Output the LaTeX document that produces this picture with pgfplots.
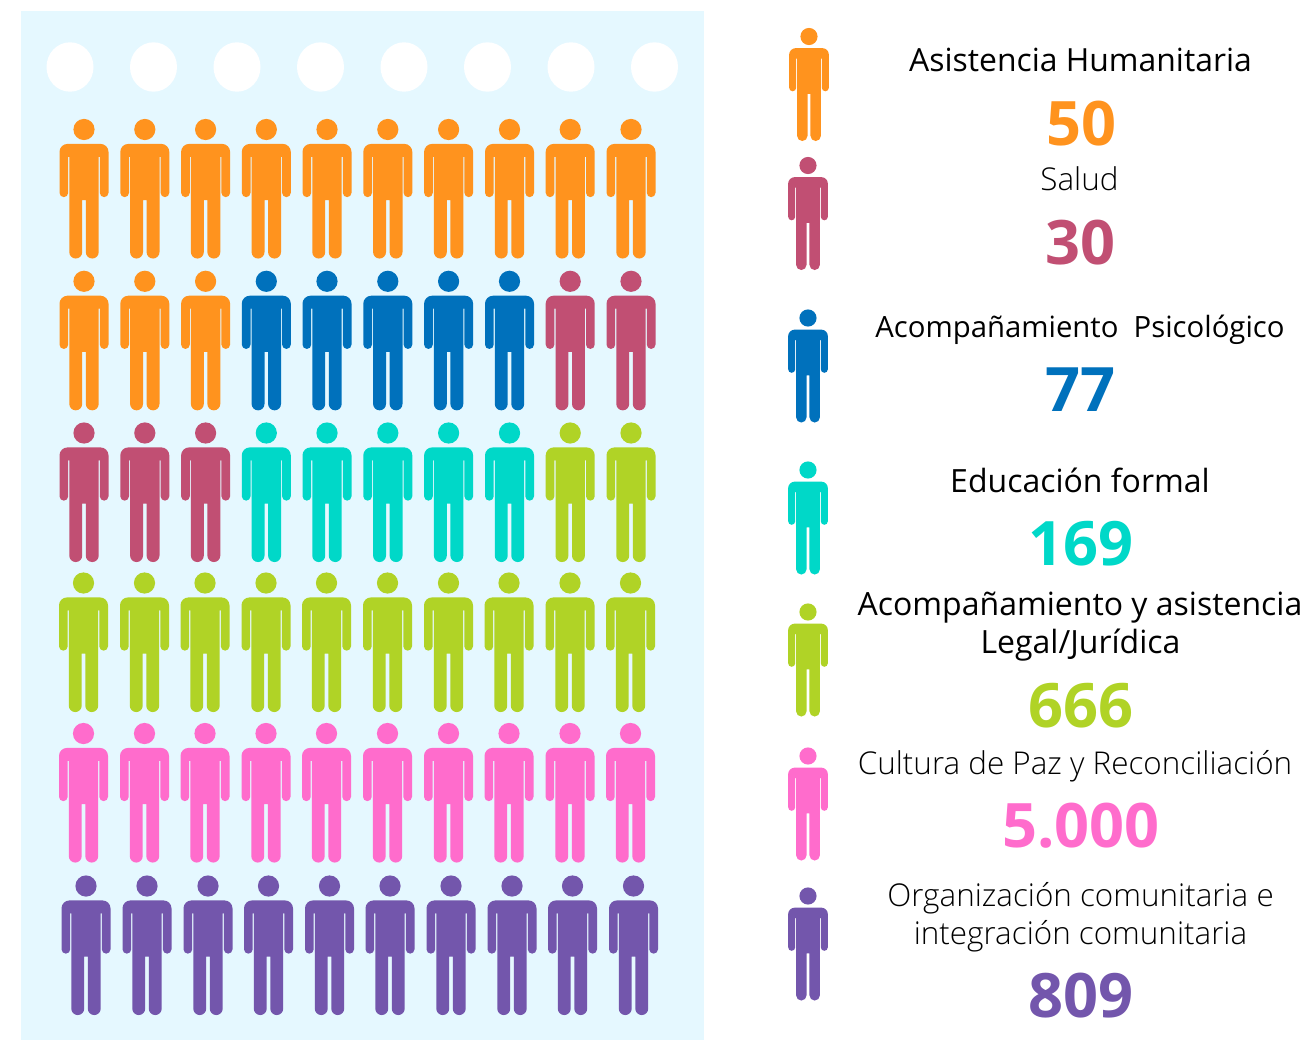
\documentclass[border=0pt]{standalone}
\usepackage{pgfplots}
\pgfplotsset{compat=1.18}
\usepackage{fontspec}
\setmainfont{Open Sans}
\newfontfamily\lightf{Open Sans Light}
\definecolor{cOrange}{HTML}{FF931E}
\definecolor{cRose}{HTML}{C14F73}
\definecolor{cBlue}{HTML}{0071BC}
\definecolor{cTeal}{HTML}{00D8C8}
\definecolor{cGreen}{HTML}{B0D326}
\definecolor{cPink}{HTML}{FF6CCC}
\definecolor{cPurple}{HTML}{7356AC}
\definecolor{cPanel}{HTML}{E5F8FF}
\pgfdeclareplotmark{person}{%
  \pgfpathcircle{\pgfpointorigin}{10.6pt}%
  \pgfpathmoveto{\pgfpoint{-16.5pt}{-14.4pt}}%
  \pgfpathlineto{\pgfpoint{16.5pt}{-14.4pt}}%
  \pgfpatharc{90}{0}{8pt}%
  \pgfpathlineto{\pgfpoint{24.5pt}{-63.3pt}}%
  \pgfpatharc{0}{-180}{4.35pt}%
  \pgfpathlineto{\pgfpoint{15.8pt}{-27.4pt}}%
  \pgfpathlineto{\pgfpoint{14.7pt}{-27.4pt}}%
  \pgfpathlineto{\pgfpoint{14.7pt}{-122.6pt}}%
  \pgfpatharc{0}{-180}{6.45pt}%
  \pgfpathlineto{\pgfpoint{1.8pt}{-70.7pt}}%
  \pgfpathlineto{\pgfpoint{-1.8pt}{-70.7pt}}%
  \pgfpathlineto{\pgfpoint{-1.8pt}{-122.6pt}}%
  \pgfpatharc{0}{-180}{6.45pt}%
  \pgfpathlineto{\pgfpoint{-14.7pt}{-27.4pt}}%
  \pgfpathlineto{\pgfpoint{-15.8pt}{-27.4pt}}%
  \pgfpathlineto{\pgfpoint{-15.8pt}{-63.3pt}}%
  \pgfpatharc{0}{-180}{4.35pt}%
  \pgfpathlineto{\pgfpoint{-24.5pt}{-22.4pt}}%
  \pgfpatharc{180}{90}{8pt}%
  \pgfpathclose
  \pgfusepathqfill}
\pgfdeclareplotmark{blob}{%
  \pgfpathellipse{\pgfpointorigin}{\pgfpoint{23.5pt}{0pt}}{\pgfpoint{0pt}{24.7pt}}%
  \pgfusepathqfill}
\pgfplotsset{
  ppl/.style={only marks, mark=person, color=#1, mark options={fill=#1, draw=none}},
  lgd/.style={only marks, mark=person, color=#1, mark options={fill=#1, draw=none, scale=0.81}},
}
\begin{document}
\begin{tikzpicture}
\begin{axis}[
  width=1306pt, height=1040pt, scale only axis,
  xmin=0, xmax=1306, ymin=0, ymax=1040, y dir=reverse,
  hide axis, clip=false,
  every node/.append style={inner sep=0pt, outer sep=0pt},
]
\addplot[fill=white, draw=none] coordinates {(0,0) (1306,0) (1306,1040) (0,1040)} --cycle;
\addplot[fill=cPanel, draw=none] coordinates {(21,11) (704,11) (704,1040) (21,1040)} --cycle;
\addplot[only marks, mark=blob, color=white, mark options={fill=white, draw=none}] coordinates {
 (70,67) (153.5,67) (237,67) (320.5,67) (404,67) (487.5,67) (571,67) (654.5,67)};
% Row 1
\addplot[ppl=cOrange] coordinates {(84,129.5) (144.8,129.5) (205.6,129.5) (266.3,129.5) (327,129.5) (387.8,129.5) (448.6,129.5) (509.5,129.5) (570.2,129.5) (631,129.5)};
% Row 2
\addplot[ppl=cOrange] coordinates {(84,281.3) (144.8,281.3) (205.6,281.3)};
\addplot[ppl=cBlue] coordinates {(266.3,281.3) (327,281.3) (387.8,281.3) (448.6,281.3) (509.5,281.3)};
\addplot[ppl=cRose] coordinates {(570.2,281.3) (631,281.3)};
% Row 3
\addplot[ppl=cRose] coordinates {(84,433) (144.8,433) (205.6,433)};
\addplot[ppl=cTeal] coordinates {(266.3,433) (327,433) (387.8,433) (448.6,433) (509.5,433)};
\addplot[ppl=cGreen] coordinates {(570.2,433) (631,433)};
% Row 4
\addplot[ppl=cGreen] coordinates {(83.5,583) (144.5,583) (205,583) (266,583) (326.5,583) (387.5,583) (448.5,583) (509,583) (570,583) (630.5,583)};
% Row 5
\addplot[ppl=cPink] coordinates {(83.5,733.5) (144.5,733.5) (205,733.5) (266,733.5) (326.5,733.5) (387.5,733.5) (448.5,733.5) (509,733.5) (570,733.5) (630.5,733.5)};
% Row 6
\addplot[ppl=cPurple] coordinates {(86,886) (147,886) (208,886) (268.5,886) (329.5,886) (390,886) (451,886) (512,886) (572.5,886) (633.5,886)};
% Legend figures
\addplot[lgd=cOrange] coordinates {(809,36.5)};
\addplot[lgd=cRose] coordinates {(808,165.5)};
\addplot[lgd=cBlue] coordinates {(808,318)};
\addplot[lgd=cTeal] coordinates {(808,470)};
\addplot[lgd=cGreen] coordinates {(808,612)};
\addplot[lgd=cPink] coordinates {(808,756)};
\addplot[lgd=cPurple] coordinates {(808,896)};
% Text
\newcommand{\lab}[4]{\node[anchor=base, font=\fontsize{#4}{#4}\selectfont] at (axis cs:#1,#2) {#3};}
\newcommand{\lbl}[4]{\node[anchor=base, font=\lightf\fontsize{#4}{#4}\selectfont] at (axis cs:#1,#2) {#3};}
\newcommand{\num}[4]{\node[anchor=base, text=#4, font=\bfseries\fontsize{61.3}{61.3}\selectfont] at (axis cs:#1,#2) {#3};}
\lab{1080.5}{71.5}{Asistencia Humanitaria}{31.9}
\num{1081}{145.5}{50}{cOrange}
\lbl{1079.5}{190.5}{Salud}{31.4}
\num{1080.5}{264.5}{30}{cRose}
\lab{1080}{338}{Acompañamiento\ \ Psicológico}{29.3}
\num{1080}{411}{77}{cBlue}
\lab{1080}{492}{Educación formal}{32}
\num{1081}{565.5}{169}{cTeal}
\lab{1080}{615}{Acompañamiento y asistencia}{32}
\lab{1080.5}{653}{Legal/Jurídica}{32}
\num{1081}{727}{666}{cGreen}
\lbl{1075}{774}{Cultura de Paz y Reconciliación}{31.4}
\num{1081}{847.5}{5.000}{cPink}
\lbl{1080.5}{906}{Organización comunitaria e}{31.4}
\lbl{1080.5}{944}{integración comunitaria}{31.4}
\num{1081}{1017.5}{809}{cPurple}
\end{axis}
\end{tikzpicture}
\end{document}
